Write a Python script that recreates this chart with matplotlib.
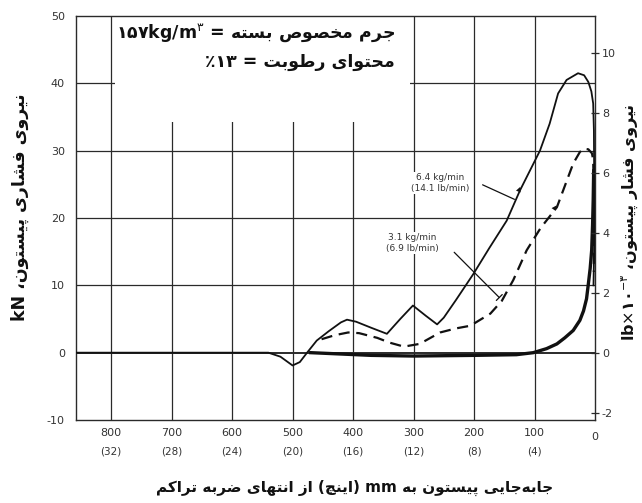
import matplotlib
matplotlib.use("Agg")
import matplotlib.pyplot as plt
from matplotlib.patches import Rectangle

# ---------------- data ----------------
x_ticks_mm = [800, 700, 600, 500, 400, 300, 200, 100]
x_ticks_in = ["(32)", "(28)", "(24)", "(20)", "(16)", "(12)", "(8)", "(4)"]
y_ticks_kn = [-10, 0, 10, 20, 30, 40, 50]
y_ticks_lb = [-2, 0, 2, 4, 6, 8, 10]

# 6.4 kg/min curve (solid)
fast_mm = [858, 540, 520, 500, 488, 476, 460, 440, 420, 410, 395, 370, 344, 322, 301, 280,
           261, 250, 230, 201, 175, 146, 124, 91, 75, 61, 47, 28, 18, 11, 6, 3, 1.8, 1.3, 1.5, 2.5]
fast_kn = [0, 0, -0.6, -1.9, -1.4, 0, 1.8, 3.2, 4.5, 4.9, 4.6, 3.7, 2.8, 5.0, 7.0, 5.5,
           4.2, 5.2, 7.8, 11.7, 15.5, 19.6, 24.1, 30.0, 34.0, 38.5, 40.5, 41.5, 41.2, 40.2, 38.8, 37.0, 33.0, 25.0, 15.0, 10.0]

# 3.1 kg/min curve (dashed)
slow_mm = [452, 430, 408, 390, 360, 340, 316, 290, 256, 230, 206, 173, 154, 135, 113, 90,
           63, 36, 25, 19, 11, 5, 3, 2, 1.8, 2.0]
slow_kn = [2.0, 2.6, 3.0, 2.9, 2.2, 1.5, 0.9, 1.3, 3.0, 3.6, 4.0, 5.8, 7.7, 10.8, 15.2, 18.5,
           21.6, 28.1, 29.8, 30.3, 30.2, 29.6, 28.6, 24.0, 18.0, 12.0]

# return / common curve (bold)
ret_mm = [470, 420, 370, 300, 200, 130, 102, 80, 63, 50, 36, 25, 19, 14, 11, 8, 5.5, 4, 3, 2.2]
ret_kn = [0, -0.2, -0.4, -0.5, -0.4, -0.3, 0, 0.6, 1.3, 2.2, 3.3, 4.8, 6.2, 8.0, 10.2, 12.5, 15.2, 19.0, 22.6, 27.0]

# ---------------- simple Persian shaping ----------------
FORMS = {
    'ا': ('\uFE8D', '\uFE8E', None, None),
    'ب': ('\uFE8F', '\uFE90', '\uFE91', '\uFE92'),
    'پ': ('\uFB56', '\uFB57', '\uFB58', '\uFB59'),
    'ت': ('\uFE95', '\uFE96', '\uFE97', '\uFE98'),
    'ج': ('\uFE9D', '\uFE9E', '\uFE9F', '\uFEA0'),
    'چ': ('\uFB7A', '\uFB7B', '\uFB7C', '\uFB7D'),
    'ح': ('\uFEA1', '\uFEA2', '\uFEA3', '\uFEA4'),
    'خ': ('\uFEA5', '\uFEA6', '\uFEA7', '\uFEA8'),
    'ر': ('\uFEAD', '\uFEAE', None, None),
    'ز': ('\uFEAF', '\uFEB0', None, None),
    'س': ('\uFEB1', '\uFEB2', '\uFEB3', '\uFEB4'),
    'ش': ('\uFEB5', '\uFEB6', '\uFEB7', '\uFEB8'),
    'ص': ('\uFEB9', '\uFEBA', '\uFEBB', '\uFEBC'),
    'ض': ('\uFEBD', '\uFEBE', '\uFEBF', '\uFEC0'),
    'ط': ('\uFEC1', '\uFEC2', '\uFEC3', '\uFEC4'),
    'ف': ('\uFED1', '\uFED2', '\uFED3', '\uFED4'),
    'ک': ('\uFB8E', '\uFB8F', '\uFB90', '\uFB91'),
    'م': ('\uFEE1', '\uFEE2', '\uFEE3', '\uFEE4'),
    'ن': ('\uFEE5', '\uFEE6', '\uFEE7', '\uFEE8'),
    'ه': ('\uFEE9', '\uFEEA', '\uFEEB', '\uFEEC'),
    'و': ('\uFEED', '\uFEEE', None, None),
    'ی': ('\uFBFC', '\uFBFD', '\uFBFE', '\uFBFF'),
}


def fa(text):
    out = []
    n = len(text)
    for i, ch in enumerate(text):
        if ch == '\u200c':
            continue
        if ch not in FORMS:
            out.append(ch)
            continue
        f = FORMS[ch]
        prev = text[i - 1] if i > 0 else ''
        nxt = text[i + 1] if i + 1 < n else ''
        pj = prev in FORMS and FORMS[prev][2] is not None
        nj = nxt in FORMS and f[2] is not None
        if pj and nj:
            out.append(f[3])
        elif pj:
            out.append(f[1])
        elif nj:
            out.append(f[2])
        else:
            out.append(f[0])
    return ''.join(out)[::-1]


FONT = ['DejaVu Sans']
plt.rcParams['font.family'] = FONT
plt.rcParams['mathtext.fontset'] = 'dejavusans'

fig = plt.figure(figsize=(6.42, 5.03), dpi=100)
ax = fig.add_axes([76 / 642, 1 - 420 / 503, (595 - 76) / 642, (420 - 16) / 503])
ax.set_xlim(858, 0)
ax.set_ylim(-10, 50)

gc = '#2a2a2a'
for xm in x_ticks_mm:
    ax.axvline(xm, color=gc, lw=0.9, zorder=1)
for yk in y_ticks_kn[1:-1]:
    ax.axhline(yk, color=gc, lw=1.4 if yk == 0 else 0.9, zorder=1)

# blank area behind the note box
ax.add_patch(Rectangle((794, 34.3), 306 - 794, 15.5, facecolor='white', edgecolor='none', zorder=2))

ax.plot(fast_mm, fast_kn, color='#111111', lw=1.3, zorder=4)
ax.plot(slow_mm, slow_kn, color='#111111', lw=1.6, ls=(0, (5, 3)), zorder=4)
ax.plot(ret_mm, ret_kn, color='#111111', lw=2.4, zorder=4)

# direction arrows on curves
ax.annotate('', xy=(fast_mm[22] - 2, fast_kn[22] + 0.9), xytext=(fast_mm[21], fast_kn[21]),
            arrowprops=dict(arrowstyle='-|>', color='#111111', lw=0, mutation_scale=9), zorder=5)
ax.annotate('', xy=(slow_mm[16] - 2, slow_kn[16] + 0.6), xytext=(slow_mm[15], slow_kn[15]),
            arrowprops=dict(arrowstyle='-|>', color='#111111', lw=0, mutation_scale=9), zorder=5)

for s in ax.spines.values():
    s.set_color(gc)
    s.set_linewidth(1.0)

# left ticks
ax.set_yticks(y_ticks_kn)
ax.set_yticklabels([str(v) for v in y_ticks_kn], fontsize=8, color='#333333')
ax.tick_params(axis='y', length=0, pad=8)
ax.set_xticks([])

# right axis in lb x 10^3
ax2 = ax.twinx()
ax2.set_ylim(-10 * 0.2248, 50 * 0.2248)
ax2.set_yticks(y_ticks_lb)
ax2.set_yticklabels([str(v) for v in y_ticks_lb], fontsize=8, color='#333333')
ax2.tick_params(axis='y', direction='inout', length=6, width=0.9, color=gc, pad=2)
for s in ax2.spines.values():
    s.set_visible(False)

# x tick labels (two rows)
tr = ax.get_xaxis_transform()
for xm, lab in zip(x_ticks_mm, x_ticks_in):
    ax.text(xm, -0.032, str(xm), transform=tr, ha='center', va='center', fontsize=8, color='#333333')
    ax.text(xm, -0.079, lab, transform=tr, ha='center', va='center', fontsize=7.5, color='#333333')
ax.text(0, -0.042, '0', transform=tr, ha='center', va='center', fontsize=8, color='#333333')

# note box
ax.text(331, 47.4, r'۱۵۷kg/m$^{۳}$ = ' + fa('جرم مخصوص بسته'), ha='right', va='center',
        fontsize=12.5, fontweight='bold', color='#111111', zorder=6)
ax.text(331, 43.1, '٪۱۳ = ' + fa('محتوای رطوبت'), ha='right', va='center',
        fontsize=12.5, fontweight='bold', color='#111111', zorder=6)

# curve labels
bb = dict(facecolor='white', edgecolor='none', pad=1.0)
ax.text(256, 25.2, '6.4 kg/min\n(14.1 lb/min)', ha='center', va='center', fontsize=6.5,
        color='#333333', linespacing=1.3, bbox=bb, zorder=6)
ax.annotate('', xy=(129, 22.6), xytext=(190, 25.1),
            arrowprops=dict(arrowstyle='-', color='#111111', lw=0.9), zorder=6)
ax.text(302, 16.3, '3.1 kg/min\n(6.9 lb/min)', ha='center', va='center', fontsize=6.5,
        color='#333333', linespacing=1.3, bbox=bb, zorder=6)
ax.annotate('', xy=(155, 7.9), xytext=(236, 15.2),
            arrowprops=dict(arrowstyle='-[, widthB=0.3, lengthB=0', color='#111111', lw=0.9), zorder=6)

# axis labels
fig.text(355 / 642, 1 - 488 / 503,
         fa('از انتهای ضربه تراکم') + ' (' + fa('اینچ') + ') mm ' + fa('جابه\u200cجایی پیستون به'),
         ha='center', va='center', fontsize=11, fontweight='bold', color='#111111')
fig.text(20 / 642, 1 - 207 / 503, 'kN ' + fa('نیروی فشاری پیستون،'), rotation=90,
         ha='center', va='center', fontsize=12.5, fontweight='bold', color='#111111')
fig.text(630 / 642, 1 - 222 / 503, r'lb$\times$۱۰$^{-۳}$ ' + fa('نیروی فشار پیستون،'), rotation=90,
         ha='center', va='center', fontsize=11.5, fontweight='bold', color='#111111')

fig.savefig('out.png', dpi=100, facecolor='white')
